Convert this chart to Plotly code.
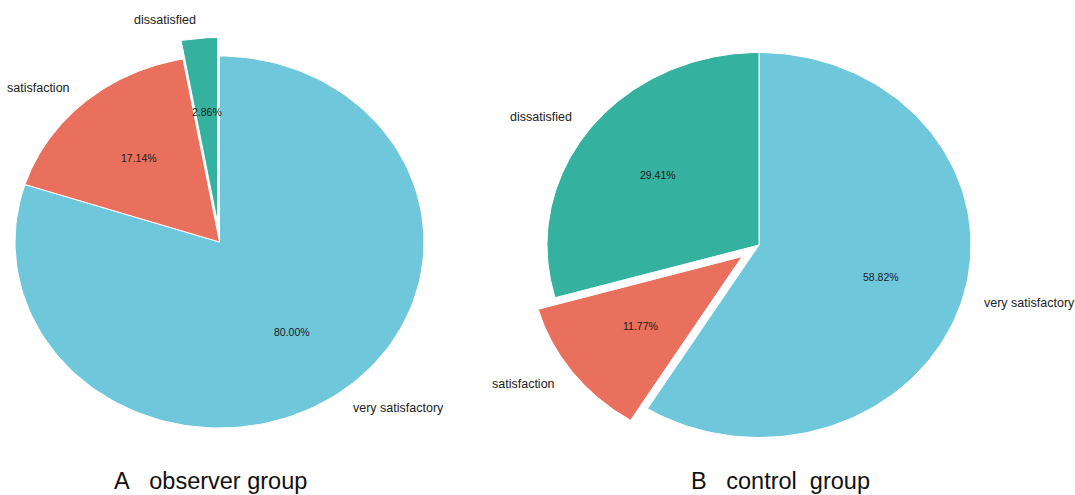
import numpy as np
import plotly.graph_objects as go

# Survey result categories and their shares (percent)
categories = ["very satisfactory", "satisfaction", "dissatisfied"]
observer_pct = [80.00, 17.14, 2.86]
control_pct = [58.82, 11.77, 29.41]
group_titles = ["A\u00a0\u00a0\u00a0observer group", "B\u00a0\u00a0\u00a0control\u00a0\u00a0group"]

# Which slice is pulled out of each pie (fraction of radius)
observer_pull = [0.0, 0.0, 0.1]
control_pull = [0.0, 0.1, 0.0]

slice_colors = ["#6fc7db", "#e9705d", "#35b29f"]

W, H = 1075, 495
# pixel centre and horizontal / vertical radius of each pie
pie_geom = [
    dict(cx=219.5, cy=242.0, rx=204.5, ry=186.0),
    dict(cx=759.0, cy=245.0, rx=212.0, ry=192.5),
]
title_x = [210.5, 780.0]
title_y = 480.5

FONT = "Liberation Sans, Arial, sans-serif"

fig = go.Figure()
annotations = []


def add_pie(idx, values, pulls):
    xa = "x" if idx == 0 else f"x{idx + 1}"
    ya = "y" if idx == 0 else f"y{idx + 1}"
    total = float(sum(values))
    start = 0.0
    for val, pull, color, name in zip(values, pulls, slice_colors, categories):
        t1 = 90.0 - 360.0 * start / total
        t2 = 90.0 - 360.0 * (start + val) / total
        start += val
        mid = np.radians((t1 + t2) / 2.0)
        ox, oy = pull * np.cos(mid), pull * np.sin(mid)
        ang = np.radians(np.linspace(t1, t2, 160))
        xs = np.concatenate([[ox], ox + np.cos(ang), [ox]])
        ys = np.concatenate([[oy], oy + np.sin(ang), [oy]])
        fig.add_trace(go.Scatter(
            x=xs, y=ys, mode="lines", fill="toself", fillcolor=color,
            line=dict(color="white", width=1), xaxis=xa, yaxis=ya,
            hoverinfo="skip", showlegend=False,
        ))
        # percentage inside the slice
        annotations.append(dict(
            x=ox + 0.6 * np.cos(mid), y=oy + 0.6 * np.sin(mid),
            xref=xa, yref=ya, text=f"{val:.2f}%", showarrow=False,
            xanchor="center", yanchor="middle",
            font=dict(family=FONT, size=10.5, color="#1c1c1c"),
        ))
        # category name outside the slice
        cx = ox + 1.1 * np.cos(mid)
        annotations.append(dict(
            x=cx, y=oy + 1.1 * np.sin(mid),
            xref=xa, yref=ya, text=name, showarrow=False,
            xanchor="left" if np.cos(mid) > 0 else "right", yanchor="middle",
            borderpad=0,
            font=dict(family=FONT, size=12.5, color="#222222"),
        ))


add_pie(0, observer_pct, observer_pull)
add_pie(1, control_pct, control_pull)

layout_axes = {}
for i, g in enumerate(pie_geom):
    xr = [(0 - g["cx"]) / g["rx"], (W - g["cx"]) / g["rx"]]
    yr = [(g["cy"] - H) / g["ry"], g["cy"] / g["ry"]]
    xkey = "xaxis" if i == 0 else f"xaxis{i + 1}"
    ykey = "yaxis" if i == 0 else f"yaxis{i + 1}"
    ax_common = dict(visible=False, showgrid=False, zeroline=False, fixedrange=True)
    layout_axes[xkey] = dict(range=xr, domain=[0, 1], **ax_common)
    layout_axes[ykey] = dict(range=yr, domain=[0, 1], **ax_common)
    if i > 0:
        layout_axes[xkey]["overlaying"] = "x"
        layout_axes[ykey]["overlaying"] = "y"
        layout_axes[xkey]["anchor"] = f"y{i + 1}"
        layout_axes[ykey]["anchor"] = f"x{i + 1}"

for tx, txt in zip(title_x, group_titles):
    annotations.append(dict(
        x=tx / W, y=1 - title_y / H, xref="paper", yref="paper",
        text=txt, showarrow=False, xanchor="center", yanchor="middle",
        font=dict(family=FONT, size=23.5, color="#111111"),
    ))

fig.update_layout(
    width=W, height=H,
    margin=dict(l=0, r=0, t=0, b=0),
    paper_bgcolor="white", plot_bgcolor="rgba(0,0,0,0)",
    annotations=annotations,
    **layout_axes,
)

fig.write_html("out.html", config={"displayModeBar": False})
